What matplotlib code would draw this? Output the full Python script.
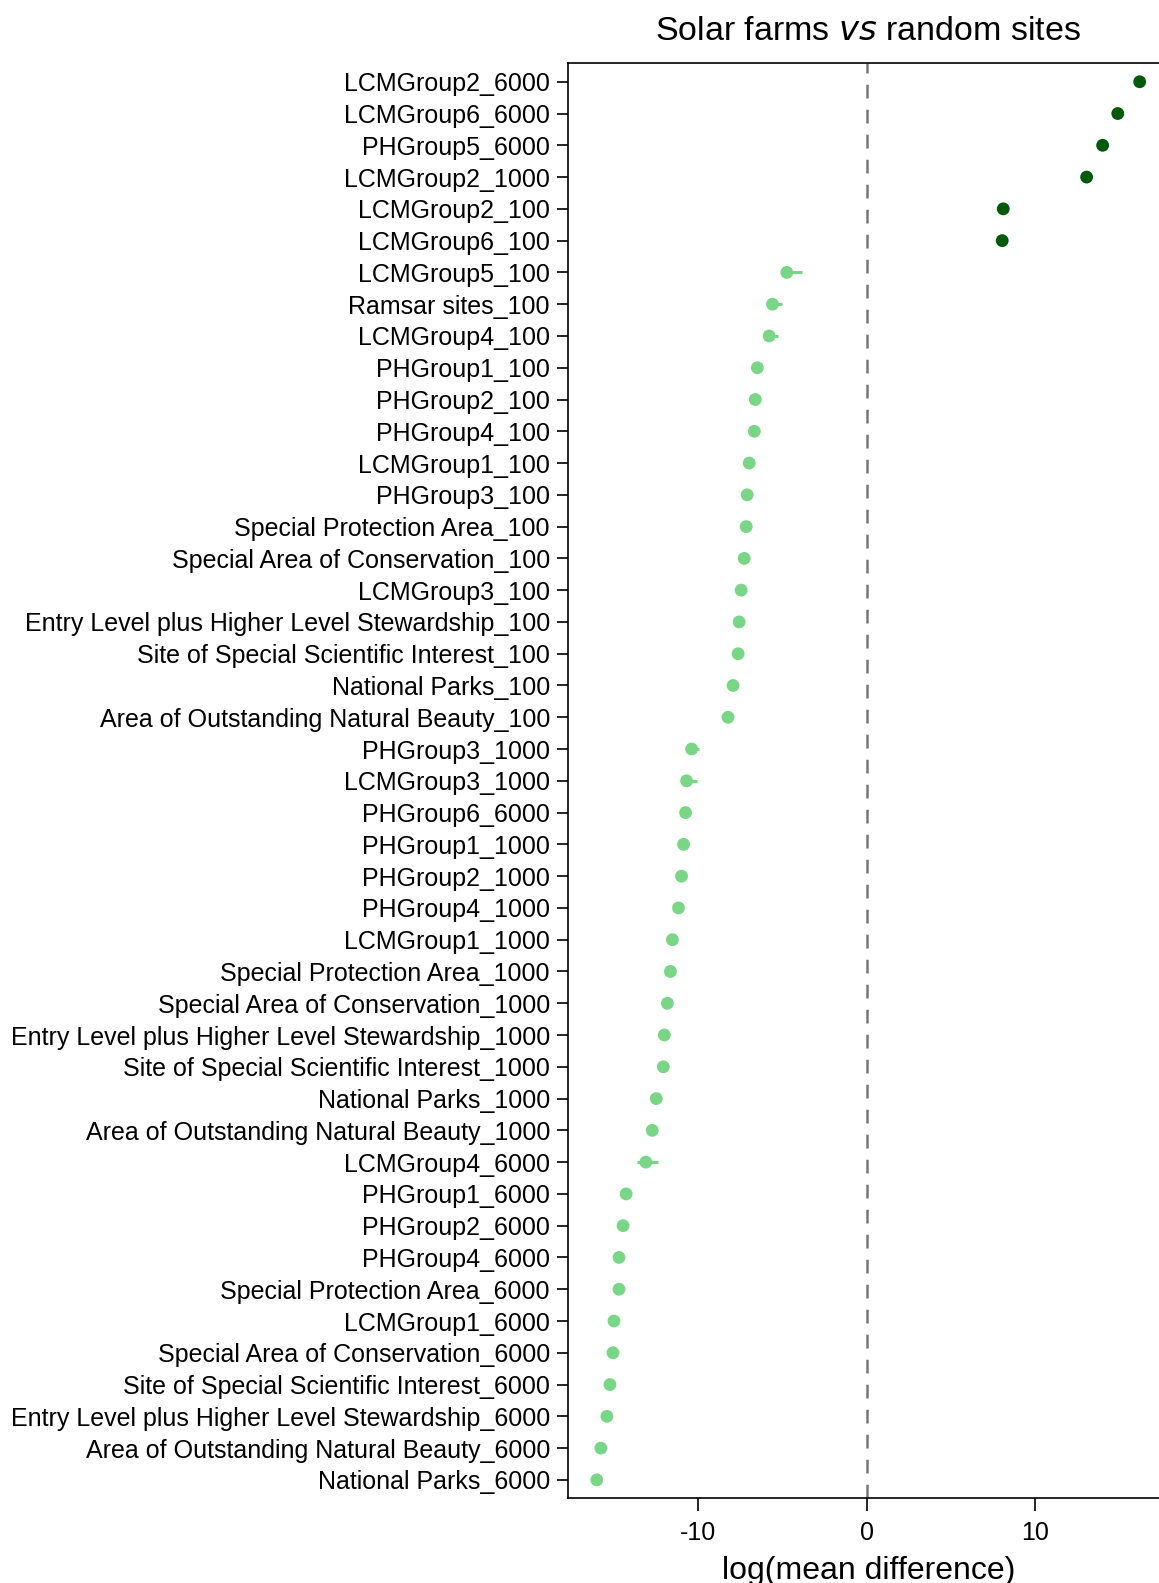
"""Dot plot: solar farms vs random sites (log mean difference)."""
import matplotlib
matplotlib.use("Agg")
import matplotlib.pyplot as plt
import numpy as np

plt.rcParams["font.family"] = ["Liberation Sans", "DejaVu Sans"]

# ── Data ─────────────────────────────────────────────────────────────────────

labels = [
    "LCMGroup2_6000", "LCMGroup6_6000", "PHGroup5_6000", "LCMGroup2_1000",
    "LCMGroup2_100", "LCMGroup6_100", "LCMGroup5_100", "Ramsar sites_100",
    "LCMGroup4_100", "PHGroup1_100", "PHGroup2_100", "PHGroup4_100",
    "LCMGroup1_100", "PHGroup3_100", "Special Protection Area_100",
    "Special Area of Conservation_100", "LCMGroup3_100",
    "Entry Level plus Higher Level Stewardship_100",
    "Site of Special Scientific Interest_100", "National Parks_100",
    "Area of Outstanding Natural Beauty_100", "PHGroup3_1000", "LCMGroup3_1000",
    "PHGroup6_6000", "PHGroup1_1000", "PHGroup2_1000", "PHGroup4_1000",
    "LCMGroup1_1000", "Special Protection Area_1000",
    "Special Area of Conservation_1000",
    "Entry Level plus Higher Level Stewardship_1000",
    "Site of Special Scientific Interest_1000", "National Parks_1000",
    "Area of Outstanding Natural Beauty_1000", "LCMGroup4_6000", "PHGroup1_6000",
    "PHGroup2_6000", "PHGroup4_6000", "Special Protection Area_6000",
    "LCMGroup1_6000", "Special Area of Conservation_6000",
    "Site of Special Scientific Interest_6000",
    "Entry Level plus Higher Level Stewardship_6000",
    "Area of Outstanding Natural Beauty_6000", "National Parks_6000",
]

values = [
    16.2, 14.9, 14.0, 13.05, 8.1, 8.04, -4.75, -5.6, -5.8, -6.5, -6.62, -6.68,
    -6.98, -7.1, -7.16, -7.28, -7.46, -7.58, -7.64, -7.94, -8.24, -10.4, -10.7,
    -10.76, -10.88, -11.0, -11.18, -11.54, -11.66, -11.84, -12.02, -12.08,
    -12.5, -12.74, -13.12, -14.29, -14.47, -14.71, -14.71, -15.01, -15.07,
    -15.25, -15.43, -15.79, -16.03,
]

# confidence interval half-widths (below / above the point)
ci_low = [
    0.1, 0.1, 0.25, 0.1, 0.1, 0.1, 0.2, 0.15, 0.15, 0.1, 0.1, 0.1,
    0.1, 0.1, 0.1, 0.1, 0.1, 0.1, 0.1, 0.1, 0.1, 0.2, 0.2,
    0.1, 0.1, 0.1, 0.1, 0.1, 0.1, 0.1, 0.1, 0.1,
    0.1, 0.1, 0.5, 0.1, 0.1, 0.1, 0.1, 0.1, 0.1,
    0.1, 0.1, 0.1, 0.1,
]
ci_high = [
    0.1, 0.1, 0.25, 0.1, 0.1, 0.1, 0.9, 0.55, 0.5, 0.1, 0.1, 0.1,
    0.1, 0.1, 0.1, 0.1, 0.1, 0.1, 0.1, 0.1, 0.1, 0.45, 0.6,
    0.1, 0.1, 0.1, 0.1, 0.1, 0.1, 0.1, 0.1, 0.1,
    0.1, 0.1, 0.7, 0.1, 0.1, 0.1, 0.1, 0.1, 0.1,
    0.1, 0.1, 0.1, 0.1,
]

_DARK = "#005a0c"
_LIGHT = "#78d686"

# ── Plot ─────────────────────────────────────────────────────────────────────

fig = plt.figure(figsize=(11.59, 15.83), dpi=100)
ax = fig.add_axes([568 / 1159, 0.0535, (1170 - 568) / 1159, 0.9065])

n = len(labels)
ypos = np.arange(n, 0, -1)
vals = np.array(values)
colors = [_DARK if v > 0 else _LIGHT for v in vals]

ax.axvline(0, color="#777777", linestyle=(0, (5.5, 4.5)), linewidth=1.8, zorder=1)
for y, v, lo, hi, c in zip(ypos, vals, ci_low, ci_high, colors):
    ax.plot([v - lo, v + hi], [y, y], color=c, linewidth=2.2, zorder=2,
            solid_capstyle="butt")
ax.scatter(vals, ypos, s=85, color=colors, zorder=3, linewidths=0)

ax.set_xlim(-17.74, 18.0)
ax.set_ylim(0.42, n + 0.58)
ax.set_yticks(ypos)
ax.set_yticklabels(labels, fontsize=18)
ax.set_xticks([-10, 0, 10])
ax.set_xticklabels(["-10", "0", "10"], fontsize=18)
ax.tick_params(axis="y", length=8, width=1.2, pad=5)
ax.tick_params(axis="x", length=9, width=1.2, pad=7)
for s in ax.spines.values():
    s.set_linewidth(1.2)

ax.set_xlabel("log(mean difference)", fontsize=23, labelpad=8)
fig.text(868 / 1159, 1 - 31 / 1583, r"Solar farms $\it{vs}$ random sites",
         fontsize=24.5, ha="center", va="center")

fig.savefig("out.png", dpi=100)
plt.close(fig)
